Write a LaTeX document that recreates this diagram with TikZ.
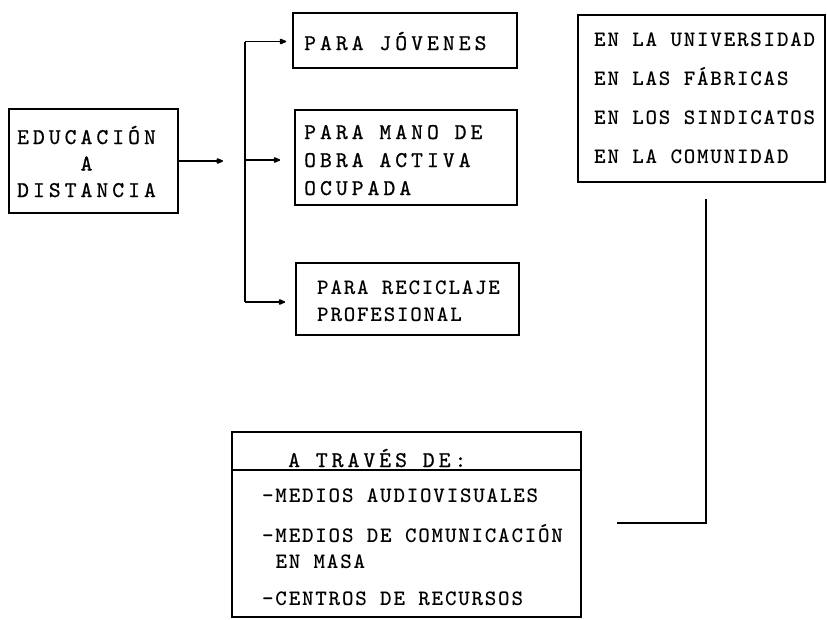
\documentclass[tikz,border=0pt]{standalone}
\usepackage{fontspec}
\usetikzlibrary{arrows.meta, calc}

\newfontfamily\monoA{lmmono10-regular.otf}[LetterSpace=18,FakeBold=0.8]
\newfontfamily\monoB{lmmonolt10-bold.otf}[LetterSpace=8]
\newcommand\spacedfont{\monoA\fontsize{22.5}{28}\selectfont}
\newcommand\tightfont{\monoB\fontsize{22}{39}\selectfont}

\begin{document}
\begin{tikzpicture}[x=1pt,y=-1pt,
  box/.style={draw, line width=1.8pt, inner sep=0pt},
  lbl/.style={inner sep=0pt, anchor=base west, align=left},
  wire/.style={line width=1.8pt},
  tip/.style={-{Latex[round,length=9pt,width=7pt]}}]
\useasboundingbox (0,0) rectangle (827,619);
% Boxes
\node[box, minimum width=169pt, minimum height=104pt] (edu) at (93.5,161) {};
\node[box, minimum width=224pt, minimum height=55pt] (jov) at (405,40.5) {};
\node[box, minimum width=222pt, minimum height=95pt] (mano) at (406,157.5) {};
\node[box, minimum width=223pt, minimum height=72pt] (recic) at (407.5,299) {};
\node[box, minimum width=247pt, minimum height=167pt] (lugar) at (701.5,98.5) {};
\node[box, minimum width=349pt, minimum height=185pt] (medios) at (406.5,524.5) {};
\draw[wire] ($(medios.north west)+(0,39)$) -- ($(medios.north east)+(0,39)$);
% Texts of the boxes (base = last line)
\node[inner sep=0pt, anchor=base, align=center, font=\spacedfont] (edutext) at (86.5,197)
  {EDUCACIÓN\\[-1.5pt]A\\[-1.5pt]DISTANCIA};
\node[lbl, font=\spacedfont] (jovtext) at (304,50) {PARA JÓVENES};
\node[lbl, font=\spacedfont] (manotext) at (304,195) {PARA MANO DE\\OBRA ACTIVA\\OCUPADA};
\node[lbl, font=\tightfont] (recictext) at (317,321) {PARA RECICLAJE\\[-12pt]PROFESIONAL};
\node[lbl, font=\tightfont] (lugartext) at (594,163)
  {EN LA UNIVERSIDAD\\EN LAS FÁBRICAS\\EN LOS SINDICATOS\\EN LA COMUNIDAD};
\node[lbl, font=\spacedfont] (travestext) at (288,467) {A TRAVÉS DE:};
\node[lbl, font=\tightfont] (item1) at (262,502) {\makebox[13.3pt][l]{-}MEDIOS AUDIOVISUALES};
\node[lbl, font=\tightfont] (item2) at (262,568)
  {\makebox[13.3pt][l]{-}MEDIOS DE COMUNICACIÓN\\[-13pt]\hspace*{13.3pt}EN MASA};
\node[lbl, font=\tightfont] (item3) at (262,605) {\makebox[13.3pt][l]{-}CENTROS DE RECURSOS};
% Fork from the first box
\coordinate (split) at (223,161);
\coordinate (bustop) at (245,41.5);
\coordinate (busmid) at (245,160);
\coordinate (busbot) at (245,302);
\draw[wire,tip] (edu.east) -- (split);
\draw[wire] (bustop) -- (busbot);
\draw[wire,tip,shorten >=6pt] (bustop) -- (bustop -| jov.west);
\draw[wire,tip,shorten >=14pt] (busmid) -- (busmid -| mano.west);
\draw[wire,tip,shorten >=10pt] (busbot) -- (busbot -| recic.west);
% Line on the right
\coordinate (rtop) at (706,199);
\coordinate (rcorner) at (706,523);
\coordinate (rend) at (617,523);
\draw[wire] (rtop) -- (rcorner) -- (rend);
\end{tikzpicture}
\end{document}
